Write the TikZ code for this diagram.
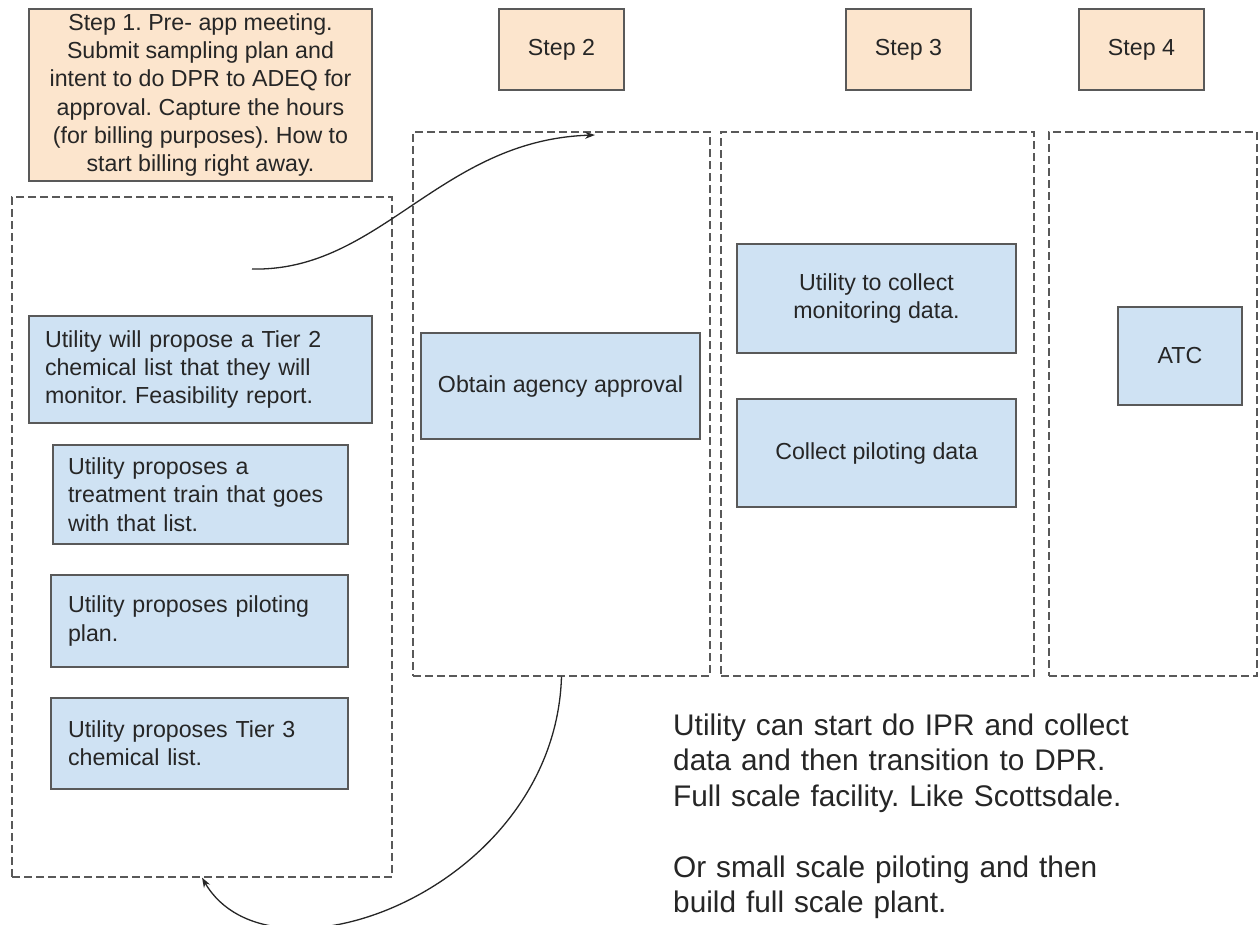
\documentclass[tikz,border=0pt]{standalone}
\usepackage{fontspec}
\setmainfont{Liberation Sans}
\usetikzlibrary{arrows.meta}
\frenchspacing
\definecolor{peach}{HTML}{FCE5CD}
\definecolor{lblue}{HTML}{CFE2F3}
\definecolor{edge}{HTML}{595959}
\definecolor{txt}{HTML}{262626}
\tikzset{
  boxfont/.style={font=\fontsize{23.2}{28.3}\selectfont},
  stepbox/.style={draw=edge, line width=1.4pt, fill=peach, boxfont, text=txt, align=center, inner sep=0pt},
  bluebox/.style={draw=edge, line width=1.4pt, fill=lblue, boxfont, text=txt, align=center, inner sep=0pt},
  leftbox/.style={draw=edge, line width=1.4pt, fill=lblue, boxfont, text=txt, align=left, inner ysep=0pt},
  colbox/.style={draw=edge, line width=1.2pt, dash pattern=on 8pt off 4pt, inner sep=0pt},
  flow/.style={draw=black!85, line width=1.3pt, -{Stealth[length=10pt,width=7pt]}},
}
\begin{document}
\begin{tikzpicture}[x=1pt,y=-1pt]
\useasboundingbox[fill=white] (0,0) rectangle (1258,924);

% dashed columns
\node[colbox, minimum width=380pt, minimum height=680pt] (col1) at (202,537) {};
\node[colbox, minimum width=297pt, minimum height=544pt] (col2) at (561.5,404) {};
\node[colbox, minimum width=313pt, minimum height=544pt] (col3) at (877.5,404) {};
\node[colbox, minimum width=208pt, minimum height=544pt] (col4) at (1153,404) {};

% step headers
\node[stepbox, minimum width=343pt, minimum height=172pt] (s1) at (200.5,95)
  {Step 1. Pre- app meeting.\\Submit sampling plan and\\intent to do DPR to ADEQ for\\approval. Capture the hours\\(for billing purposes). How to\\start billing right away.};
\node[stepbox, minimum width=125pt, minimum height=81pt] (s2) at (561.5,49.5) {Step 2};
\node[stepbox, minimum width=125pt, minimum height=81pt] (s3) at (908.5,49.5) {Step 3};
\node[stepbox, minimum width=125pt, minimum height=81pt] (s4) at (1141.5,49.5) {Step 4};

% column 1 boxes
\node[leftbox, inner xsep=16pt, text width=311pt, minimum width=343pt, minimum height=107pt] (t2) at (200.5,369.5)
  {Utility will propose a Tier 2\\chemical list that they will\\monitor. Feasibility report.};
\node[leftbox, inner xsep=15pt, text width=265pt, minimum width=295pt, minimum height=99pt] (tt) at (200.5,494.5)
  {Utility proposes a\\treatment train that goes\\with that list.};
\node[leftbox, inner xsep=17pt, text width=263pt, minimum width=297pt, minimum height=92pt] (pp) at (199.5,621)
  {Utility proposes piloting\\plan.};
\node[leftbox, inner xsep=17pt, text width=263pt, minimum width=297pt, minimum height=91pt] (t3) at (199.5,743.5)
  {Utility proposes Tier 3\\chemical list.};

% other boxes
\node[bluebox, minimum width=279pt, minimum height=106pt] (oa) at (560.5,386) {Obtain agency approval};
\node[bluebox, minimum width=279pt, minimum height=109pt] (md) at (876.5,298.5) {Utility to collect\\monitoring data.};
\node[bluebox, minimum width=279pt, minimum height=108pt] (pd) at (876.5,453) {Collect piloting data};
\node[bluebox, minimum width=124pt, minimum height=98pt] (atc) at (1180,356) {ATC};

% free text
\node[anchor=base west, inner sep=0pt, text width=560pt, align=left, text=txt,
      font=\fontsize{29.8}{35.5}\selectfont] (note) at (673,735)
  {Utility can start do IPR and collect\\data and then transition to DPR.\\Full scale facility. Like Scottsdale.\\[35.5pt]Or small scale piloting and then\\build full scale plant.};

% connectors
\coordinate (a1s) at (252,269);
\coordinate (a1e) at (595,135);
\draw[flow] (a1s) .. controls (380,272) and (440,140) .. (a1e);
\draw[flow] (col2.south) .. controls (555,890) and (270,995) .. (col1.south);
\end{tikzpicture}
\end{document}
